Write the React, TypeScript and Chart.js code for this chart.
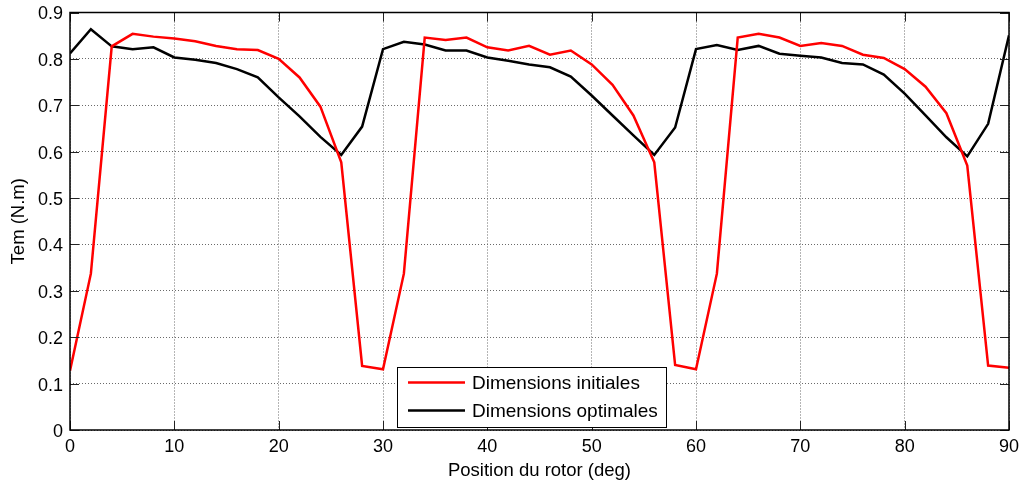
import React, { useEffect, useRef } from "react";
import { Chart, registerables } from "chart.js";

Chart.register(...registerables);

const positions = [0, 2, 4, 6, 8, 10, 12, 14, 16, 18, 20, 22, 24, 26, 28, 30, 32, 34, 36, 38, 40, 42, 44, 46, 48, 50, 52, 54, 56, 58, 60, 62, 64, 66, 68, 70, 72, 74, 76, 78, 80, 82, 84, 86, 88, 90];

const initiales = [0.128, 0.337, 0.827, 0.854, 0.848, 0.844, 0.838, 0.828, 0.821, 0.819, 0.800, 0.760, 0.697, 0.577, 0.138, 0.131, 0.337, 0.846, 0.841, 0.846, 0.825, 0.818, 0.828, 0.809, 0.818, 0.788, 0.744, 0.678, 0.577, 0.140, 0.131, 0.337, 0.846, 0.854, 0.846, 0.828, 0.834, 0.828, 0.809, 0.802, 0.778, 0.740, 0.683, 0.570, 0.139, 0.134];

const optimales = [0.812, 0.864, 0.827, 0.821, 0.825, 0.803, 0.798, 0.791, 0.778, 0.760, 0.717, 0.676, 0.632, 0.593, 0.654, 0.821, 0.837, 0.831, 0.818, 0.818, 0.803, 0.796, 0.788, 0.782, 0.762, 0.721, 0.678, 0.635, 0.593, 0.652, 0.821, 0.830, 0.819, 0.828, 0.811, 0.807, 0.803, 0.791, 0.788, 0.766, 0.725, 0.678, 0.631, 0.590, 0.660, 0.851];

const xTicks = [0, 10, 20, 30, 40, 50, 60, 70, 80, 90];
const xTickLabels = ["0", "10", "20", "30", "40", "50", "60", "70", "80", "90"];
const yTicks = [0, 0.1, 0.2, 0.3, 0.4, 0.5, 0.6, 0.7, 0.8, 0.9];
const yTickLabels = ["0", "0.1", "0.2", "0.3", "0.4", "0.5", "0.6", "0.7", "0.8", "0.9"];

const seriesLabels = ["Dimensions initiales", "Dimensions optimales"];
const seriesColors = ["#ff0000", "#000000"];
const xTitle = "Position du rotor (deg)";
const yTitle = "Tem (N.m)";

const FONT = "'Liberation Sans', Arial, sans-serif";

const framePlugin = {
  id: "matlabFrame",
  afterDraw(chart: any) {
    const { ctx, chartArea: a, scales } = chart;
    ctx.save();
    // inward ticks on all four sides
    ctx.strokeStyle = "#222";
    ctx.lineWidth = 1;
    ctx.beginPath();
    const tl = 9;
    for (const v of xTicks) {
      const px = Math.round(scales.x.getPixelForValue(v)) + 0.5;
      ctx.moveTo(px, a.bottom);
      ctx.lineTo(px, a.bottom - tl);
      ctx.moveTo(px, a.top);
      ctx.lineTo(px, a.top + tl);
    }
    for (const v of yTicks) {
      const py = Math.round(scales.y.getPixelForValue(v)) + 0.5;
      ctx.moveTo(a.left, py);
      ctx.lineTo(a.left + tl, py);
      ctx.moveTo(a.right, py);
      ctx.lineTo(a.right - tl, py);
    }
    ctx.stroke();
    // axes box
    ctx.strokeStyle = "#000";
    ctx.lineWidth = 1.5;
    ctx.strokeRect(a.left, a.top, a.right - a.left, a.bottom - a.top);

    // legend
    const lx = 397, ly = 367, lw = 269, lh = 60;
    ctx.fillStyle = "#fff";
    ctx.fillRect(lx, ly, lw, lh);
    ctx.strokeStyle = "#000";
    ctx.lineWidth = 1;
    ctx.strokeRect(lx + 0.5, ly + 0.5, lw, lh);
    ctx.font = `19px ${FONT}`;
    ctx.textBaseline = "middle";
    ctx.textAlign = "left";
    chart.data.datasets.forEach((ds: any, i: number) => {
      const yy = ly + 15.5 + i * 28;
      ctx.strokeStyle = ds.borderColor;
      ctx.lineWidth = 2.5;
      ctx.beginPath();
      ctx.moveTo(lx + 11, yy);
      ctx.lineTo(lx + 68, yy);
      ctx.stroke();
      ctx.fillStyle = "#000";
      ctx.fillText(ds.label, lx + 75, yy + 1);
    });
    ctx.restore();
  },
};

export default function App() {
  const ref = useRef<HTMLCanvasElement | null>(null);

  useEffect(() => {
    if (!ref.current) return;
    const chart = new Chart(ref.current, {
      type: "line",
      data: {
        datasets: [
          {
            label: seriesLabels[0],
            data: positions.map((x, i) => ({ x, y: initiales[i] })),
            borderColor: seriesColors[0],
            backgroundColor: seriesColors[0],
            borderWidth: 2.5,
            pointRadius: 0,
            tension: 0,
            fill: false,
          },
          {
            label: seriesLabels[1],
            data: positions.map((x, i) => ({ x, y: optimales[i] })),
            borderColor: seriesColors[1],
            backgroundColor: seriesColors[1],
            borderWidth: 2.5,
            pointRadius: 0,
            tension: 0,
            fill: false,
          },
        ],
      },
      options: {
        responsive: false,
        animation: false,
        layout: { padding: { left: 0, right: 11, top: 12.5, bottom: 0 } },
        plugins: {
          legend: { display: false },
          tooltip: { enabled: false },
        },
        scales: {
          x: {
            type: "linear",
            min: 0,
            max: 90,
            afterBuildTicks: (s: any) => {
              s.ticks = xTicks.map((v) => ({ value: v }));
            },
            afterFit: (s: any) => {
              s.height = 54;
              s.paddingLeft = 0;
              s.paddingRight = 0;
              s.paddingTop = 0;
              s.paddingBottom = 0;
            },
            ticks: {
              autoSkip: false,
              maxRotation: 0,
              padding: 6,
              color: "#000",
              font: { family: FONT, size: 18 },
              callback: (v: any) => {
                const i = xTicks.indexOf(Number(v));
                return i >= 0 ? xTickLabels[i] : "";
              },
            },
            grid: {
              color: "#6a6a6a",
              lineWidth: 1,
              drawTicks: false,
            },
            border: { display: false, dash: [1, 2] },
            title: {
              display: true,
              text: xTitle,
              color: "#000",
              font: { family: FONT, size: 18.5 },
              padding: { top: 0, bottom: 2 },
            },
          },
          y: {
            type: "linear",
            min: 0,
            max: 0.9,
            afterBuildTicks: (s: any) => {
              s.ticks = yTicks.map((v) => ({ value: v }));
            },
            afterFit: (s: any) => {
              s.width = 70;
              s.paddingLeft = 0;
              s.paddingRight = 0;
              s.paddingTop = 0;
              s.paddingBottom = 0;
            },
            ticks: {
              autoSkip: false,
              padding: 7,
              labelOffset: 2,
              color: "#000",
              font: { family: FONT, size: 18 },
              callback: (v: any) => {
                const i = yTicks.findIndex((t) => Math.abs(t - Number(v)) < 1e-9);
                return i >= 0 ? yTickLabels[i] : "";
              },
            },
            grid: {
              color: "#6a6a6a",
              lineWidth: 1,
              drawTicks: false,
            },
            border: { display: false, dash: [1, 2] },
            title: {
              display: true,
              text: yTitle,
              color: "#000",
              font: { family: FONT, size: 18.5 },
              padding: { top: 8, bottom: 0 },
            },
          },
        },
      },
      plugins: [framePlugin],
    });
    return () => chart.destroy();
  }, []);

  return (
    <div style={{ position: "absolute", left: 0, top: 0, width: 1020, height: 484, background: "#fff" }}>
      <canvas ref={ref} width={1020} height={484} style={{ display: "block" }} />
    </div>
  );
}
